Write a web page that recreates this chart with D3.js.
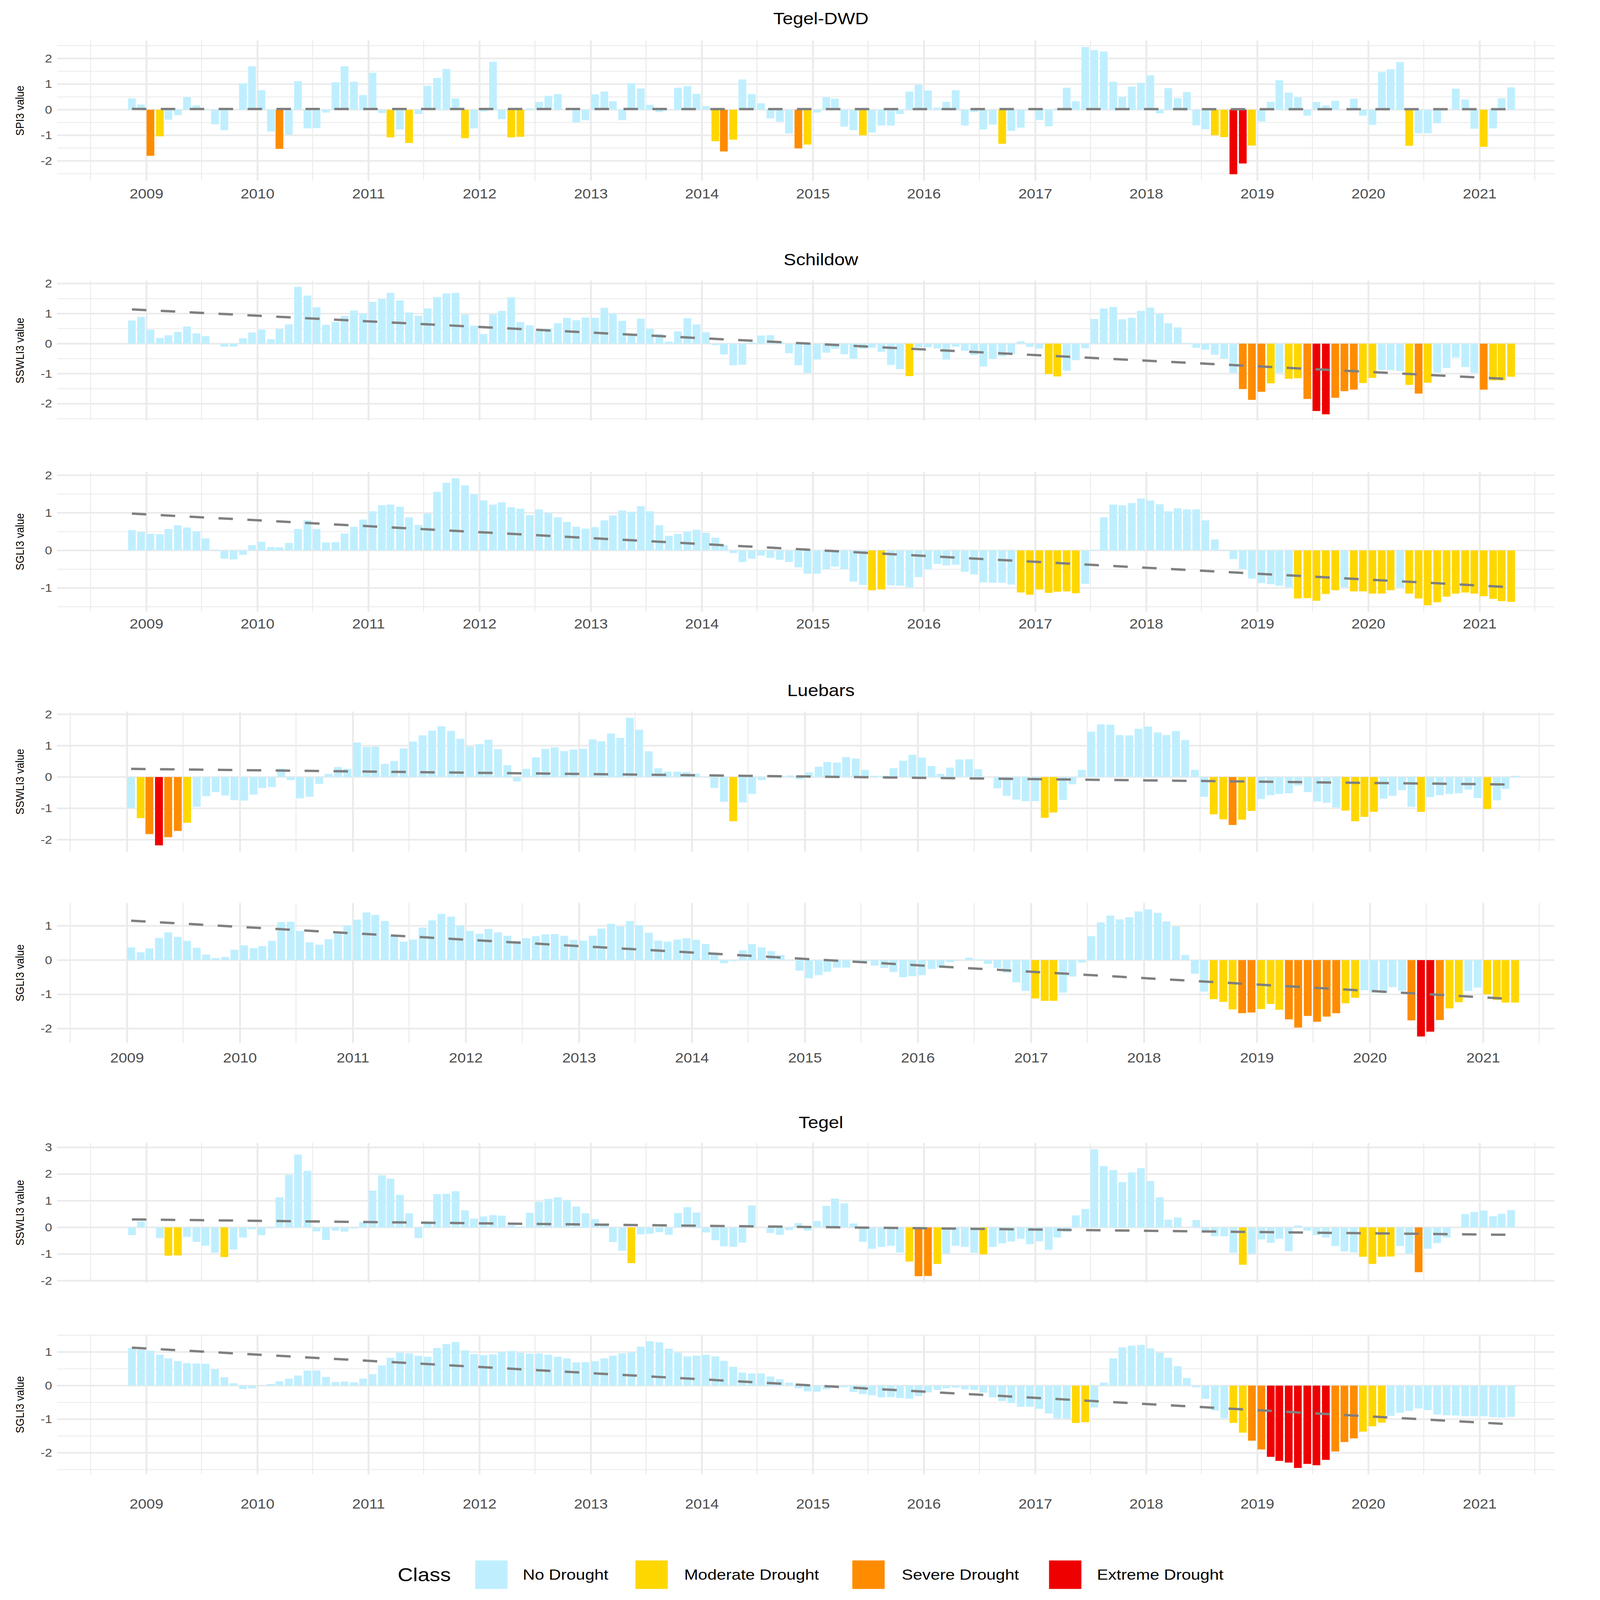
<!DOCTYPE html>
<html><head><meta charset="utf-8">
<script src="https://cdn.jsdelivr.net/npm/d3@7"></script>
<style>html,body{margin:0;padding:0;background:#fff;overflow:hidden}svg{display:block}text{font-family:"Liberation Sans",Arial,sans-serif}</style>
</head><body>
<script>
// ---------- DATA ----------
const yearTicks = [2009,2010,2011,2012,2013,2014,2015,2016,2017,2018,2019,2020,2021];
const startTop = [2008, 10];   // Nov 2008 (month index 0-based)
const startLuebars = [2009, 0]; // Jan 2009

const tegelDWD_SPI3 = [0.44,0.2,
-1.8,-1.04,-0.39,-0.21,0.49,0.17,0.02,-0.57,-0.8,0.0,1.02,1.69,
0.76,-0.85,-1.53,-0.98,1.11,-0.73,-0.72,-0.11,1.07,1.7,1.09,0.57,
1.44,-0.13,-1.08,-0.77,-1.3,-0.17,0.93,1.24,1.59,0.44,-1.11,-0.73,
-0.07,1.87,-0.37,-1.08,-1.06,0.05,0.3,0.54,0.61,0.0,-0.5,-0.41,
0.6,0.71,0.33,-0.41,1.03,0.83,0.19,-0.09,-0.02,0.86,0.92,0.62,
0.14,-1.23,-1.63,-1.17,1.18,0.61,0.25,-0.34,-0.47,-0.93,-1.51,-1.36,
-0.11,0.49,0.43,-0.66,-0.8,-1.0,-0.89,-0.62,-0.62,-0.17,0.71,0.97,
0.75,0.08,0.31,0.76,-0.62,-0.09,-0.77,-0.58,-1.33,-0.83,-0.7,-0.02,
-0.4,-0.65,0.04,0.86,0.33,2.45,2.33,2.27,1.09,0.51,0.9,1.05,
1.34,-0.14,0.84,0.45,0.69,-0.61,-0.76,-1.0,-1.07,-2.52,-2.1,-1.4,
-0.46,0.31,1.15,0.67,0.49,-0.23,0.3,0.17,0.35,0.0,0.43,-0.23,
-0.59,1.47,1.58,1.86,-1.41,-0.92,-0.92,-0.53,0.0,0.82,0.4,-0.74,
-1.45,-0.73,0.45,0.87];

const schildow_SSWLI3 = [0.77,0.89,
0.47,0.19,0.28,0.39,0.57,0.34,0.25,0.0,-0.1,-0.1,0.18,0.37,
0.47,0.15,0.49,0.64,1.89,1.6,1.21,0.63,0.72,0.92,1.1,1.0,
1.39,1.49,1.69,1.44,1.04,0.93,1.17,1.55,1.67,1.69,0.97,0.6,
0.32,0.98,1.09,1.54,0.72,0.61,0.41,0.5,0.68,0.86,0.78,0.87,
0.86,1.19,1.0,0.76,0.28,0.83,0.49,0.32,0.07,0.41,0.84,0.64,
0.38,-0.05,-0.36,-0.72,-0.7,0.04,0.27,0.28,0.05,-0.32,-0.72,-0.97,
-0.53,-0.3,-0.17,-0.35,-0.51,-0.17,-0.14,-0.27,-0.71,-0.85,-1.08,-0.12,
-0.12,-0.16,-0.53,-0.1,-0.24,-0.38,-0.76,-0.51,-0.42,-0.35,0.08,-0.11,
-0.16,-1.01,-1.09,-0.9,-0.55,-0.15,0.82,1.17,1.22,0.81,0.86,1.09,
1.2,0.99,0.68,0.54,0.02,-0.14,-0.2,-0.37,-0.5,-0.97,-1.51,-1.87,
-1.6,-1.32,-0.97,-1.17,-1.15,-1.84,-2.24,-2.35,-1.8,-1.58,-1.53,-1.31,
-1.14,-0.87,-0.88,-0.91,-1.37,-1.66,-1.3,-0.96,-0.81,-0.46,-0.78,-0.97,
-1.53,-1.22,-1.22,-1.1];

const schildow_SGLI3 = [0.54,0.49,
0.44,0.43,0.57,0.67,0.61,0.51,0.32,0.02,-0.22,-0.24,-0.12,0.14,
0.23,0.09,0.08,0.2,0.57,0.8,0.57,0.21,0.22,0.45,0.63,0.82,
1.04,1.2,1.22,1.16,0.88,0.68,0.98,1.56,1.8,1.92,1.73,1.5,
1.33,1.22,1.28,1.15,1.11,0.94,1.09,1.0,0.88,0.76,0.63,0.58,
0.62,0.8,0.93,1.06,1.03,1.18,1.04,0.67,0.39,0.44,0.5,0.55,
0.47,0.34,0.14,-0.07,-0.31,-0.22,-0.14,-0.2,-0.25,-0.31,-0.45,-0.62,
-0.62,-0.5,-0.43,-0.5,-0.83,-0.92,-1.06,-1.04,-0.93,-0.94,-0.98,-0.71,
-0.5,-0.36,-0.4,-0.38,-0.57,-0.64,-0.85,-0.86,-0.86,-0.91,-1.12,-1.18,
-1.04,-1.13,-1.1,-1.09,-1.14,-0.89,0.02,0.88,1.22,1.2,1.26,1.38,
1.33,1.23,1.04,1.12,1.09,1.09,0.8,0.29,0.02,-0.23,-0.5,-0.75,
-0.87,-0.9,-0.94,-0.99,-1.28,-1.27,-1.34,-1.16,-1.06,-0.98,-1.09,-1.09,
-1.15,-1.15,-1.06,-0.99,-1.15,-1.28,-1.46,-1.38,-1.23,-1.15,-1.12,-1.15,
-1.22,-1.29,-1.35,-1.37];

const luebars_SSWLI3 = [
-0.99,-1.31,-1.82,-2.18,-1.92,-1.72,-1.46,-0.95,-0.61,-0.48,-0.59,-0.74,
-0.75,-0.56,-0.35,-0.32,0.27,-0.1,-0.68,-0.63,-0.22,0.1,0.32,0.26,
1.1,0.96,0.97,0.42,0.51,0.91,1.13,1.33,1.48,1.62,1.47,1.22,
0.97,1.05,1.19,0.89,0.38,-0.14,0.26,0.63,0.9,0.95,0.83,0.88,
0.9,1.2,1.14,1.39,1.25,1.89,1.51,0.82,0.28,0.17,0.17,0.16,
0.11,0.01,-0.35,-0.79,-1.41,-0.81,-0.54,-0.1,0.04,0.04,0.05,-0.07,
0.15,0.33,0.48,0.46,0.64,0.59,0.23,0.04,0.04,0.28,0.52,0.71,
0.62,0.35,0.1,0.3,0.56,0.57,0.25,0.0,-0.36,-0.6,-0.72,-0.77,
-0.77,-1.3,-1.13,-0.73,-0.23,0.23,1.45,1.68,1.67,1.34,1.33,1.54,
1.61,1.42,1.34,1.47,1.18,0.23,-0.63,-1.19,-1.35,-1.53,-1.36,-1.08,
-0.7,-0.58,-0.54,-0.52,-0.27,-0.48,-0.78,-0.82,-0.97,-1.07,-1.41,-1.27,
-1.11,-0.69,-0.6,-0.42,-0.95,-1.11,-0.64,-0.58,-0.54,-0.52,-0.4,-0.67,
-1.02,-0.74,-0.38,0.04];

const luebars_SGLI3 = [
0.37,0.23,0.34,0.65,0.81,0.68,0.56,0.36,0.16,0.06,0.09,0.3,
0.43,0.35,0.41,0.56,1.11,1.12,0.85,0.52,0.45,0.61,0.82,1.01,
1.18,1.39,1.32,1.14,0.69,0.54,0.6,0.95,1.16,1.35,1.27,1.01,
0.85,0.77,0.91,0.81,0.71,0.56,0.64,0.7,0.75,0.76,0.71,0.59,
0.57,0.71,0.92,1.06,0.98,1.14,1.02,0.8,0.57,0.54,0.6,0.64,
0.59,0.47,0.22,-0.09,-0.03,0.29,0.47,0.37,0.26,0.15,-0.01,-0.31,
-0.53,-0.44,-0.34,-0.22,-0.22,-0.02,-0.03,-0.16,-0.23,-0.35,-0.5,-0.47,
-0.44,-0.26,-0.22,-0.06,-0.01,0.07,0.02,-0.11,-0.23,-0.37,-0.65,-0.9,
-1.12,-1.19,-1.19,-0.95,-0.48,-0.07,0.7,1.1,1.3,1.19,1.25,1.42,
1.48,1.38,1.13,0.98,0.15,-0.4,-0.92,-1.14,-1.22,-1.44,-1.55,-1.53,
-1.43,-1.28,-1.45,-1.73,-1.97,-1.63,-1.8,-1.65,-1.55,-1.26,-1.1,-0.88,
-0.95,-0.96,-0.79,-0.9,-1.76,-2.23,-2.09,-1.75,-1.41,-1.23,-0.9,-0.8,
-1.0,-1.16,-1.24,-1.24];

const tegel_SSWLI3 = [-0.29,0.22,
-0.01,-0.4,-1.06,-1.05,-0.36,-0.54,-0.69,-0.95,-1.11,-0.83,-0.38,-0.07,
-0.29,-0.03,1.13,1.97,2.73,2.12,-0.15,-0.47,-0.12,-0.16,-0.04,0.2,
1.38,1.95,1.83,1.22,0.53,-0.4,0.23,1.25,1.26,1.36,0.64,0.33,
0.41,0.46,0.44,0.08,0.03,0.55,0.96,1.07,1.13,1.02,0.78,0.53,
0.31,0.12,-0.55,-0.88,-1.34,-0.26,-0.24,-0.18,-0.28,0.54,0.76,0.56,
-0.19,-0.48,-0.71,-0.73,-0.57,0.82,0.0,-0.21,-0.28,-0.1,0.16,-0.12,
0.24,0.81,1.08,0.9,0.15,-0.54,-0.8,-0.73,-0.69,-0.94,-1.28,-1.83,
-1.82,-1.37,-0.98,-0.69,-0.73,-0.95,-1.01,-0.73,-0.6,-0.53,-0.43,-0.63,
-0.52,-0.84,-0.38,-0.16,0.45,0.69,2.93,2.3,2.15,1.7,2.06,2.22,
1.74,1.13,0.29,0.37,0.0,0.28,-0.19,-0.33,-0.33,-0.95,-1.4,-0.99,
-0.45,-0.58,-0.43,-0.89,0.07,-0.12,-0.29,-0.38,-0.7,-0.9,-0.94,-1.1,
-1.37,-1.1,-1.09,-0.7,-0.99,-1.68,-0.8,-0.59,-0.38,0.0,0.5,0.58,
0.63,0.42,0.51,0.65];

const tegel_SGLI3 = [1.12,1.07,
1.04,0.92,0.81,0.73,0.67,0.66,0.65,0.49,0.25,0.07,-0.1,-0.08,
-0.01,0.05,0.13,0.21,0.3,0.45,0.45,0.26,0.11,0.12,0.1,0.21,
0.34,0.6,0.83,0.98,0.96,0.89,0.86,1.12,1.24,1.3,1.05,0.94,
0.91,0.93,1.0,1.03,0.98,0.95,0.96,0.92,0.86,0.81,0.69,0.7,
0.73,0.81,0.89,0.96,0.99,1.16,1.32,1.29,1.1,0.98,0.87,0.89,
0.92,0.87,0.74,0.56,0.39,0.36,0.36,0.27,0.19,0.09,-0.08,-0.17,
-0.18,-0.11,-0.05,-0.05,-0.19,-0.25,-0.29,-0.35,-0.34,-0.37,-0.39,-0.31,
-0.2,-0.13,-0.08,-0.06,-0.11,-0.13,-0.21,-0.35,-0.46,-0.52,-0.63,-0.63,
-0.69,-0.83,-0.98,-0.99,-1.11,-1.09,-0.65,0.09,0.81,1.14,1.19,1.21,
1.11,0.98,0.83,0.58,0.23,-0.05,-0.39,-0.74,-0.97,-1.11,-1.4,-1.64,
-1.9,-2.12,-2.24,-2.29,-2.45,-2.33,-2.37,-2.21,-1.96,-1.68,-1.57,-1.37,
-1.21,-1.1,-0.9,-0.81,-0.75,-0.68,-0.73,-0.86,-0.88,-0.89,-0.91,-0.91,
-0.91,-0.94,-0.95,-0.93];

// trend line endpoints (value at first and last month)
const trendStart = [0.03, 1.14, 0.98, 0.26, 1.15, 0.3, 1.13];
const trendEnd   = [0.02, -1.18, -0.98, -0.24, -1.14, -0.28, -1.15];

const classNames = ["No Drought","Moderate Drought","Severe Drought","Extreme Drought"];
const classColors = ["#BFEFFF","#FFD700","#FF8C00","#EE0000"];

// ---------- LAYOUT ----------
const W = 4205, H = 4774, L = 150, R = 4085;
const panels = [
 {vals:tegelDWD_SPI3, start:startTop, axis:"top", y0:121, y1:539, dom:[-2.77,2.7], ticks:[-2,-1,0,1,2], ylab:"SPI3 value", title:"Tegel-DWD", titleY:55, xlab:579},
 {vals:schildow_SSWLI3, start:startTop, axis:"top", y0:837, y1:1255, dom:[-2.56,2.1], ticks:[-2,-1,0,1,2], ylab:"SSWLI3 value", title:"Schildow", titleY:774},
 {vals:schildow_SGLI3, start:startTop, axis:"top", y0:1408, y1:1825, dom:[-1.63,2.09], ticks:[-1,0,1,2], ylab:"SGLI3 value", xlab:1862},
 {vals:luebars_SSWLI3, start:startLuebars, axis:"lue", y0:2123, y1:2542, dom:[-2.39,2.09], ticks:[-2,-1,0,1,2], ylab:"SSWLI3 value", title:"Luebars", titleY:2060},
 {vals:luebars_SGLI3, start:startLuebars, axis:"lue", y0:2694, y1:3112, dom:[-2.42,1.67], ticks:[-2,-1,0,1], ylab:"SGLI3 value", xlab:3157},
 {vals:tegel_SSWLI3, start:startTop, axis:"top", y0:3410, y1:3827, dom:[-2.07,3.17], ticks:[-2,-1,0,1,2,3], ylab:"SSWLI3 value", title:"Tegel", titleY:3349},
 {vals:tegel_SGLI3, start:startTop, axis:"top", y0:3983, y1:4399, dom:[-2.64,1.51], ticks:[-2,-1,0,1], ylab:"SGLI3 value", xlab:4488}
];
const axisRanges = {top:[385,3889], lue:[334,3898]};

function cls(v){ return v <= -2 ? 3 : v <= -1.5 ? 2 : v <= -1 ? 1 : 0; }

const svg = d3.select("body").append("svg")
  .attr("viewBox",`0 0 ${W} ${H}`)
  .attr("preserveAspectRatio","none")
  .style("width","100vw").style("height","100vh");

panels.forEach((p,pi)=>{
  const x = d3.scaleTime().domain([new Date(2009,0,1), new Date(2021,0,1)]).range(axisRanges[p.axis]);
  const y = d3.scaleLinear().domain(p.dom).range([p.y1,p.y0]);
  const g = svg.append("g");
  const dates = p.vals.map((v,i)=>new Date(p.start[0], p.start[1]+i, 1));
  const monthW = x(new Date(2009,1,1)) - x(new Date(2009,0,1));
  const off = monthW*0.42, bw = monthW*0.82;

  const minorY = d3.range(Math.ceil(p.dom[0]*2)/2, p.dom[1], 1).filter(v=>Math.abs(v%1)===0.5);
  g.selectAll(".mny").data(minorY).join("line").attr("x1",L).attr("x2",R)
    .attr("y1",d=>y(d)).attr("y2",d=>y(d)).attr("stroke","#ebebeb").attr("stroke-width",2.5);
  const minorX = d3.range(2008,2022).map(yy=>new Date(yy,6,1));
  g.selectAll(".mnx").data(minorX).join("line").attr("x1",d=>x(d)).attr("x2",d=>x(d))
    .attr("y1",p.y0).attr("y2",p.y1).attr("stroke","#ebebeb").attr("stroke-width",2.5);
  g.selectAll(".mjy").data(p.ticks).join("line").attr("x1",L).attr("x2",R)
    .attr("y1",d=>y(d)).attr("y2",d=>y(d)).attr("stroke","#ebebeb").attr("stroke-width",5);
  g.selectAll(".mjx").data(yearTicks).join("line").attr("x1",d=>x(new Date(d,0,1))).attr("x2",d=>x(new Date(d,0,1)))
    .attr("y1",p.y0).attr("y2",p.y1).attr("stroke","#ebebeb").attr("stroke-width",5);

  g.selectAll(".bar").data(p.vals).join("rect")
    .attr("x",(d,i)=>x(dates[i])+off-bw/2)
    .attr("width",bw)
    .attr("y",d=>y(Math.max(0,d)))
    .attr("height",d=>Math.abs(y(d)-y(0)))
    .attr("fill",d=>classColors[cls(d)]);

  const tx0 = x(dates[0])+off, tx1 = x(dates[dates.length-1])+off;
  g.append("line").attr("x1",tx0).attr("x2",tx1)
    .attr("y1",y(trendStart[pi])).attr("y2",y(trendEnd[pi]))
    .attr("stroke","#7f7f7f").attr("stroke-width",7).attr("stroke-dasharray","38,38");

  g.selectAll(".yt").data(p.ticks).join("text").attr("x",137).attr("y",d=>y(d))
    .attr("text-anchor","end").attr("dominant-baseline","central")
    .attr("font-size",34).attr("fill","#4d4d4d").text(d=>d);
  g.append("text").attr("transform",`translate(52,${(p.y0+p.y1)/2}) rotate(-90)`)
    .attr("text-anchor","middle").attr("dominant-baseline","central")
    .attr("font-size",31).attr("fill","#000").text(p.ylab);
  if(p.xlab){
    g.selectAll(".xt").data(yearTicks).join("text").attr("x",d=>x(new Date(d,0,1))).attr("y",p.xlab)
      .attr("text-anchor","middle").attr("dominant-baseline","central")
      .attr("font-size",40).attr("fill","#4d4d4d").text(d=>d);
  }
  if(p.title){
    svg.append("text").attr("x",(L+R)/2+40).attr("y",p.titleY).attr("text-anchor","middle")
      .attr("dominant-baseline","central").attr("font-size",49).attr("fill","#000").text(p.title);
  }
});

const ly = 4698;
svg.append("text").attr("x",1045).attr("y",ly).attr("dominant-baseline","central")
  .attr("font-size",56).attr("fill","#000").text("Class");
const keyX = [1249,1670,2240,2757], labX=[1374,1798,2370,2883];
classNames.forEach((n,i)=>{
  svg.append("rect").attr("x",keyX[i]).attr("y",ly-42).attr("width",85).attr("height",85).attr("fill",classColors[i]);
  svg.append("text").attr("x",labX[i]).attr("y",ly).attr("dominant-baseline","central")
    .attr("font-size",44).attr("fill","#000").text(n);
});
</script>
</body></html>
